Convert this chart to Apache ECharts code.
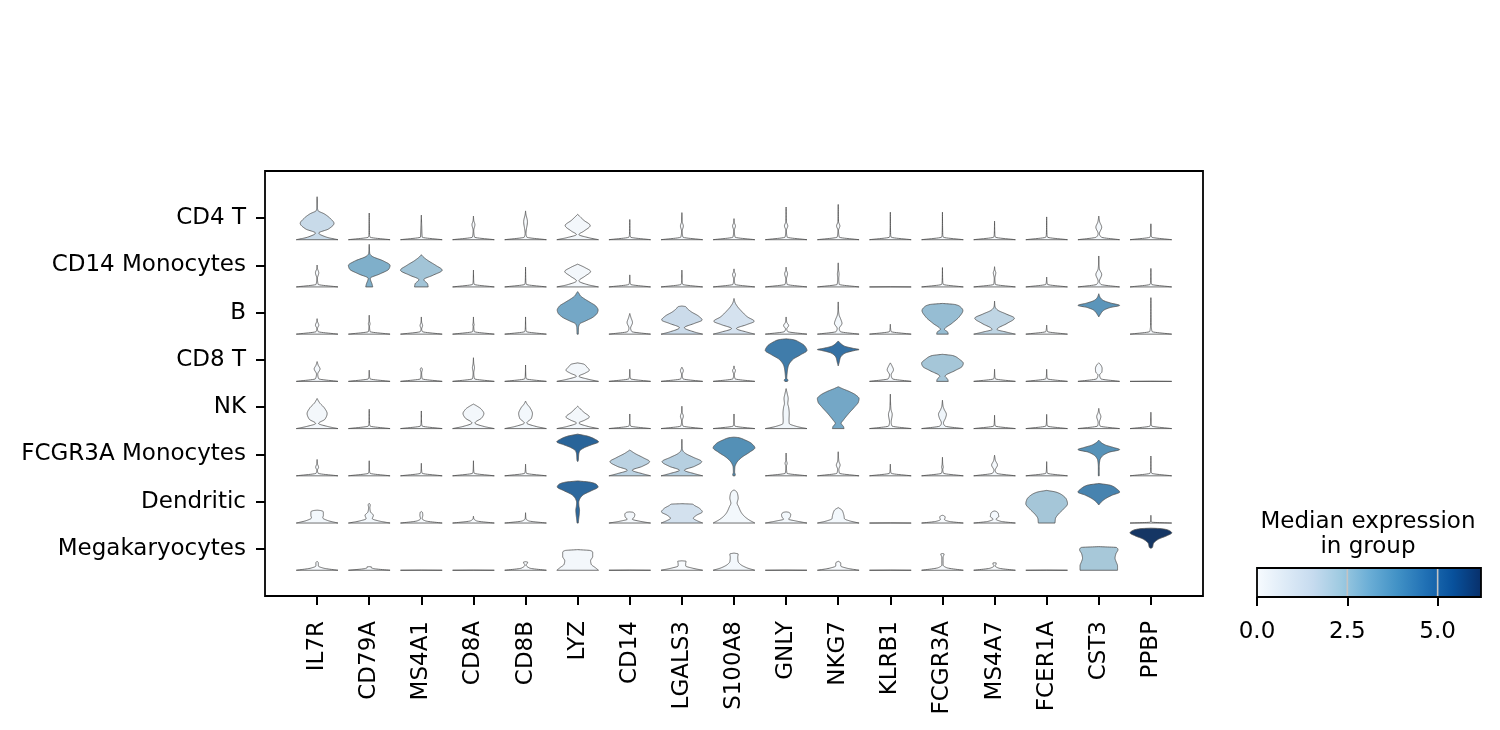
<!DOCTYPE html>
<html>
<head>
<meta charset="utf-8">
<script src="https://cdn.jsdelivr.net/npm/echarts@6/dist/echarts.min.js"></script>
<style>
html,body{margin:0;padding:0;background:#ffffff;}
#chart{width:1500px;height:730px;}
</style>
</head>
<body>
<div id="chart"></div>
<script>
// ---------------- DATA ----------------
const genes = ['IL7R','CD79A','MS4A1','CD8A','CD8B','LYZ','CD14','LGALS3','S100A8','GNLY','NKG7','KLRB1','FCGR3A','MS4A7','FCER1A','CST3','PPBP'];
const groups = ['CD4 T','CD14 Monocytes','B','CD8 T','NK','FCGR3A Monocytes','Dendritic','Megakaryocytes'];

// median expression per group (rows) x gene (columns)
const medianExpr = [
  [1.6, 0,    0,    0,   0,    0.2,  0,   0,    0,    0,    0,    0,   0,   0,   0,    0.1,  0],
  [0,   3.0,  2.4,  0,   0,    0.2,  0,   0,    0,    0,    0,    0,   0,   0,   0,    0.1,  0],
  [0,   0,    0,    0,   0,    3.2,  0.1, 1.55, 1.2,  0,    0.15, 0,   2.6, 1.8, 0,    3.7,  0],
  [0.1, 0,    0,    0,   0,    0.2,  0,   0,    0,    4.35, 4.6,  0.1, 2.35,0,   0,    0.1,  0],
  [0.2, 0,    0,    0.2, 0.15, 0.2,  0,   0,    0,    0.25, 3.2,  0,   0.3, 0,   0,    0,    0],
  [0,   0,    0,    0,   0,    4.95, 1.9, 2.0,  3.85, 0,    0,    0,   0,   0.1, 0,    3.8,  0],
  [0.15,0.15, 0,    0,   0,    4.85, 0.2, 1.25, 0.15, 0.15, 0.15, 0,   0,   0.1, 2.35, 4.15, 0],
  [0,   0,    0,    0,   0,    0.2,  0,   0,    0.15, 0,    0,    0,   0,   0,   0,    2.3,  6.1]
];

// violin density profiles: [level within row range (0..1), density relative to widest (0..1)]
const violinCD4T = [
  [[0,1],[0.06,0.45],[0.155,0.08],[0.25,0.55],[0.38,0.81],[0.5,0.62],[0.6,0.35],[0.68,0.04],[0.75,0.015],[1,0]],
  [[0,1],[0.06,0.04],[0.12,0.015],[0.62,0]],
  [[0,1],[0.06,0.04],[0.3,0.02],[0.57,0]],
  [[0,1],[0.06,0.05],[0.22,0.015],[0.35,0.07],[0.45,0.015],[0.55,0]],
  [[0,1],[0.06,0.06],[0.15,0.02],[0.42,0.09],[0.6,0.015],[0.67,0]],
  [[0,1],[0.05,0.5],[0.12,0.06],[0.2,0.3],[0.33,0.6],[0.45,0.3],[0.59,0]],
  [[0,1],[0.06,0.04],[0.12,0.015],[0.47,0]],
  [[0,1],[0.06,0.05],[0.2,0.015],[0.32,0.07],[0.42,0.015],[0.63,0]],
  [[0,1],[0.06,0.05],[0.22,0.015],[0.32,0.07],[0.4,0.015],[0.49,0]],
  [[0,1],[0.06,0.05],[0.22,0.015],[0.32,0.08],[0.42,0.015],[0.76,0]],
  [[0,1],[0.06,0.05],[0.22,0.015],[0.32,0.08],[0.42,0.015],[0.82,0]],
  [[0,1],[0.06,0.04],[0.12,0.015],[0.64,0]],
  [[0,1],[0.06,0.04],[0.12,0.015],[0.64,0]],
  [[0,1],[0.06,0.04],[0.12,0.015],[0.43,0]],
  [[0,1],[0.06,0.04],[0.12,0.015],[0.53,0]],
  [[0,1],[0.06,0.12],[0.14,0.03],[0.29,0.14],[0.42,0.04],[0.55,0]],
  [[0,1],[0.06,0.04],[0.12,0.015],[0.37,0]]
];
const violinCD14Mono = [
  [[0,1],[0.06,0.05],[0.2,0.015],[0.33,0.08],[0.43,0.015],[0.51,0]],
  [[0,0.17],[0.06,0.14],[0.2,0.05],[0.3,0.5],[0.42,0.95],[0.5,1.0],[0.6,0.7],[0.72,0.12],[0.78,0.025],[0.99,0]],
  [[0,0.33],[0.07,0.3],[0.17,0.12],[0.27,0.55],[0.39,1.0],[0.5,0.7],[0.62,0.3],[0.72,0.05],[0.75,0]],
  [[0,1],[0.06,0.04],[0.12,0.015],[0.39,0]],
  [[0,1],[0.06,0.04],[0.12,0.015],[0.46,0]],
  [[0,1],[0.05,0.5],[0.14,0.06],[0.25,0.35],[0.36,0.62],[0.45,0.35],[0.53,0]],
  [[0,1],[0.06,0.04],[0.12,0.015],[0.28,0]],
  [[0,1],[0.06,0.04],[0.12,0.015],[0.39,0]],
  [[0,1],[0.06,0.05],[0.18,0.015],[0.29,0.07],[0.36,0.015],[0.42,0]],
  [[0,1],[0.06,0.05],[0.18,0.015],[0.31,0.07],[0.39,0.015],[0.46,0]],
  [[0,1],[0.06,0.05],[0.2,0.025],[0.3,0.04],[0.4,0.015],[0.56,0]],
  [[0,1],[0.004,0]],
  [[0,1],[0.06,0.04],[0.12,0.015],[0.45,0]],
  [[0,1],[0.06,0.04],[0.2,0.015],[0.33,0.06],[0.4,0.015],[0.47,0]],
  [[0,1],[0.06,0.04],[0.12,0.015],[0.23,0]],
  [[0,1],[0.06,0.1],[0.13,0.03],[0.29,0.14],[0.42,0.03],[0.5,0.015],[0.72,0]],
  [[0,1],[0.06,0.04],[0.12,0.015],[0.43,0]]
];
const violinB = [
  [[0,1],[0.06,0.05],[0.13,0.015],[0.21,0.08],[0.3,0.015],[0.36,0]],
  [[0,1],[0.06,0.04],[0.18,0.015],[0.24,0.04],[0.3,0.015],[0.44,0]],
  [[0,1],[0.06,0.05],[0.12,0.015],[0.2,0.06],[0.28,0.015],[0.4,0]],
  [[0,1],[0.06,0.04],[0.18,0.015],[0.22,0.035],[0.26,0.015],[0.4,0]],
  [[0,1],[0.06,0.04],[0.12,0.015],[0.4,0]],
  [[0,0.03],[0.15,0.04],[0.24,0.1],[0.3,0.35],[0.4,0.75],[0.5,0.95],[0.56,0.98],[0.65,0.88],[0.74,0.6],[0.83,0.3],[0.9,0.12],[0.95,0.06],[0.99,0]],
  [[0,1],[0.06,0.1],[0.14,0.04],[0.27,0.13],[0.38,0.06],[0.48,0]],
  [[0,1],[0.05,0.6],[0.15,0.12],[0.25,0.6],[0.33,0.97],[0.42,0.8],[0.52,0.45],[0.6,0.25],[0.64,0.18],[0.655,0]],
  [[0,1],[0.05,0.6],[0.13,0.12],[0.22,0.6],[0.3,0.97],[0.4,0.65],[0.54,0.35],[0.66,0.14],[0.75,0.04],[0.83,0]],
  [[0,1],[0.06,0.08],[0.12,0.03],[0.2,0.12],[0.28,0.03],[0.4,0]],
  [[0,1],[0.06,0.1],[0.13,0.05],[0.25,0.18],[0.35,0.12],[0.45,0.04],[0.55,0.015],[0.75,0]],
  [[0,1],[0.06,0.04],[0.12,0.015],[0.23,0]],
  [[0,0.28],[0.05,0.25],[0.11,0.1],[0.25,0.45],[0.4,0.8],[0.55,0.98],[0.64,0.85],[0.69,0.6],[0.715,0]],
  [[0,1],[0.05,0.55],[0.11,0.12],[0.25,0.6],[0.37,0.95],[0.47,0.55],[0.56,0.15],[0.62,0.04],[0.66,0.015],[0.77,0]],
  [[0,1],[0.06,0.04],[0.12,0.015],[0.21,0]],
  [[0.4,0],[0.45,0.06],[0.55,0.22],[0.62,0.55],[0.67,1.0],[0.72,0.6],[0.79,0.2],[0.86,0.06],[0.94,0]],
  [[0,1],[0.06,0.06],[0.12,0.03],[0.2,0.015],[0.85,0]]
];
const violinCD8T = [
  [[0,1],[0.06,0.08],[0.17,0.03],[0.29,0.14],[0.38,0.05],[0.46,0]],
  [[0,1],[0.06,0.04],[0.12,0.015],[0.26,0]],
  [[0,1],[0.06,0.04],[0.2,0.015],[0.28,0.05],[0.32,0]],
  [[0,1],[0.06,0.05],[0.2,0.015],[0.32,0.05],[0.42,0.015],[0.55,0]],
  [[0,1],[0.06,0.04],[0.12,0.015],[0.38,0]],
  [[0,1],[0.05,0.5],[0.12,0.06],[0.19,0.35],[0.26,0.56],[0.33,0.45],[0.4,0.3],[0.43,0]],
  [[0,1],[0.06,0.04],[0.12,0.015],[0.28,0]],
  [[0,1],[0.06,0.05],[0.16,0.015],[0.25,0.07],[0.33,0]],
  [[0,1],[0.06,0.05],[0.16,0.015],[0.26,0.07],[0.3,0.02],[0.36,0]],
  [[0,0.06],[0.03,0.09],[0.07,0.03],[0.2,0.05],[0.35,0.1],[0.5,0.3],[0.62,0.7],[0.72,1.0],[0.82,0.9],[0.92,0.6],[0.97,0.35],[0.99,0]],
  [[0.36,0],[0.45,0.05],[0.55,0.1],[0.65,0.3],[0.72,0.8],[0.74,1.0],[0.77,0.7],[0.82,0.3],[0.88,0.12],[0.94,0]],
  [[0,1],[0.06,0.1],[0.15,0.04],[0.27,0.15],[0.36,0.08],[0.43,0]],
  [[0,0.28],[0.05,0.25],[0.12,0.13],[0.25,0.6],[0.35,0.95],[0.42,1.0],[0.52,0.8],[0.6,0.5],[0.63,0]],
  [[0,1],[0.06,0.04],[0.12,0.015],[0.28,0]],
  [[0,1],[0.06,0.04],[0.12,0.015],[0.28,0]],
  [[0,1],[0.06,0.1],[0.15,0.04],[0.22,0.15],[0.3,0.16],[0.38,0.1],[0.43,0]],
  [[0,1],[0.004,0]]
];
const violinNK = [
  [[0,1],[0.05,0.5],[0.12,0.07],[0.22,0.38],[0.35,0.48],[0.48,0.35],[0.6,0.12],[0.7,0]],
  [[0,1],[0.06,0.04],[0.12,0.015],[0.45,0]],
  [[0,1],[0.06,0.04],[0.12,0.015],[0.41,0]],
  [[0,1],[0.05,0.5],[0.13,0.07],[0.25,0.4],[0.35,0.5],[0.45,0.38],[0.53,0.15],[0.57,0]],
  [[0,1],[0.05,0.5],[0.13,0.06],[0.24,0.28],[0.35,0.33],[0.48,0.22],[0.58,0.06],[0.64,0]],
  [[0,1],[0.05,0.5],[0.13,0.06],[0.2,0.35],[0.27,0.56],[0.38,0.3],[0.52,0]],
  [[0,1],[0.06,0.04],[0.12,0.015],[0.34,0]],
  [[0,1],[0.06,0.05],[0.18,0.015],[0.29,0.07],[0.38,0.015],[0.52,0]],
  [[0,1],[0.06,0.04],[0.12,0.015],[0.34,0]],
  [[0,1],[0.05,0.5],[0.12,0.15],[0.2,0.14],[0.35,0.15],[0.5,0.12],[0.58,0.08],[0.7,0.1],[0.8,0.06],[0.93,0]],
  [[0,0.28],[0.05,0.25],[0.12,0.14],[0.2,0.25],[0.35,0.5],[0.5,0.78],[0.62,0.97],[0.7,1.0],[0.78,0.85],[0.86,0.55],[0.93,0.2],[0.975,0]],
  [[0,1],[0.06,0.08],[0.15,0.04],[0.33,0.09],[0.45,0.03],[0.55,0.015],[0.8,0]],
  [[0,1],[0.06,0.12],[0.13,0.05],[0.25,0.15],[0.33,0.19],[0.45,0.08],[0.52,0.03],[0.66,0]],
  [[0,1],[0.06,0.04],[0.12,0.015],[0.31,0]],
  [[0,1],[0.06,0.04],[0.12,0.015],[0.33,0]],
  [[0,1],[0.06,0.06],[0.14,0.03],[0.28,0.1],[0.38,0.03],[0.47,0]],
  [[0,1],[0.06,0.04],[0.12,0.015],[0.38,0]]
];
const violinFCGR3AMono = [
  [[0,1],[0.06,0.05],[0.13,0.015],[0.2,0.07],[0.28,0.015],[0.38,0]],
  [[0,1],[0.06,0.04],[0.12,0.015],[0.35,0]],
  [[0,1],[0.06,0.04],[0.12,0.015],[0.29,0]],
  [[0,1],[0.06,0.04],[0.12,0.015],[0.35,0]],
  [[0,1],[0.06,0.04],[0.12,0.015],[0.27,0]],
  [[0.33,0],[0.36,0.03],[0.5,0.05],[0.58,0.1],[0.65,0.3],[0.72,0.65],[0.79,1.0],[0.86,0.8],[0.92,0.5],[0.97,0]],
  [[0,1],[0.05,0.6],[0.13,0.12],[0.22,0.6],[0.33,0.95],[0.42,0.65],[0.52,0.25],[0.6,0]],
  [[0,1],[0.05,0.6],[0.13,0.12],[0.22,0.6],[0.33,0.95],[0.43,0.55],[0.52,0.18],[0.58,0.05],[0.64,0.015],[0.85,0]],
  [[0,0.05],[0.03,0.06],[0.08,0.03],[0.2,0.04],[0.3,0.12],[0.42,0.35],[0.55,0.75],[0.65,1.0],[0.75,0.85],[0.84,0.5],[0.89,0.2],[0.9,0]],
  [[0,1],[0.06,0.04],[0.22,0.015],[0.29,0.05],[0.36,0.015],[0.53,0]],
  [[0,1],[0.06,0.06],[0.15,0.03],[0.25,0.09],[0.34,0.03],[0.42,0.015],[0.56,0]],
  [[0,1],[0.06,0.04],[0.12,0.015],[0.27,0]],
  [[0,1],[0.06,0.05],[0.15,0.015],[0.2,0.04],[0.27,0.015],[0.43,0]],
  [[0,1],[0.06,0.1],[0.13,0.03],[0.25,0.14],[0.36,0.04],[0.48,0]],
  [[0,1],[0.06,0.04],[0.12,0.015],[0.33,0]],
  [[0,0.02],[0.2,0.02],[0.36,0.05],[0.45,0.15],[0.55,0.5],[0.61,1.0],[0.66,0.7],[0.72,0.3],[0.78,0.1],[0.83,0]],
  [[0,1],[0.06,0.04],[0.12,0.015],[0.46,0]]
];
const violinDendritic = [
  [[0,1],[0.06,0.5],[0.12,0.27],[0.18,0.3],[0.26,0.3],[0.29,0.18],[0.3,0]],
  [[0,1],[0.05,0.45],[0.1,0.15],[0.18,0.2],[0.26,0.06],[0.36,0.03],[0.42,0.05],[0.46,0]],
  [[0,1],[0.05,0.2],[0.1,0.04],[0.18,0.07],[0.25,0.05],[0.27,0]],
  [[0,1],[0.05,0.15],[0.1,0.02],[0.16,0]],
  [[0,1],[0.05,0.15],[0.1,0.02],[0.24,0]],
  [[0,0.03],[0.1,0.05],[0.22,0.08],[0.3,0.09],[0.4,0.06],[0.48,0.05],[0.56,0.1],[0.65,0.25],[0.75,0.65],[0.84,0.98],[0.9,0.9],[0.95,0.6],[0.98,0]],
  [[0,1],[0.04,0.5],[0.09,0.12],[0.14,0.22],[0.2,0.24],[0.25,0.15],[0.26,0]],
  [[0,1],[0.05,0.75],[0.11,0.55],[0.18,0.7],[0.26,0.98],[0.34,0.85],[0.41,0.6],[0.44,0.5],[0.45,0]],
  [[0,1],[0.08,0.7],[0.18,0.45],[0.26,0.33],[0.38,0.22],[0.46,0.15],[0.58,0.2],[0.68,0.17],[0.75,0.08],[0.77,0]],
  [[0,1],[0.05,0.45],[0.09,0.12],[0.14,0.2],[0.2,0.22],[0.25,0.12],[0.26,0]],
  [[0,1],[0.05,0.55],[0.1,0.3],[0.16,0.28],[0.22,0.25],[0.3,0.18],[0.36,0]],
  [[0,1],[0.004,0]],
  [[0,1],[0.04,0.3],[0.08,0.1],[0.13,0.13],[0.17,0.08],[0.18,0]],
  [[0,1],[0.04,0.3],[0.09,0.07],[0.15,0.2],[0.22,0.18],[0.27,0.08],[0.28,0]],
  [[0,0.4],[0.1,0.42],[0.2,0.55],[0.32,0.8],[0.45,1.0],[0.55,0.95],[0.65,0.75],[0.72,0.45],[0.76,0]],
  [[0.42,0],[0.48,0.1],[0.56,0.3],[0.65,0.65],[0.72,1.0],[0.8,0.85],[0.88,0.55],[0.92,0]],
  [[0,1],[0.02,0.05],[0.04,0.015],[0.18,0]]
];
const violinMegakaryocytes = [
  [[0,1],[0.05,0.3],[0.1,0.06],[0.17,0.06],[0.21,0]],
  [[0,1],[0.04,0.2],[0.06,0.1],[0.08,0.1],[0.085,0]],
  [[0,1],[0.004,0]],
  [[0,1],[0.004,0]],
  [[0,1],[0.05,0.2],[0.12,0.03],[0.16,0.08],[0.19,0.1],[0.2,0]],
  [[0,1],[0.06,0.85],[0.14,0.65],[0.22,0.62],[0.32,0.72],[0.42,0.72],[0.46,0.6],[0.48,0]],
  [[0,1],[0.004,0]],
  [[0,1],[0.05,0.5],[0.1,0.18],[0.15,0.18],[0.21,0.2],[0.22,0]],
  [[0,1],[0.06,0.6],[0.14,0.3],[0.2,0.2],[0.3,0.18],[0.38,0.2],[0.4,0]],
  [[0,1],[0.004,0]],
  [[0,1],[0.05,0.4],[0.1,0.12],[0.17,0.12],[0.21,0]],
  [[0,1],[0.004,0]],
  [[0,1],[0.06,0.2],[0.12,0.03],[0.3,0.03],[0.38,0.08],[0.39,0]],
  [[0,1],[0.05,0.2],[0.1,0.03],[0.14,0.07],[0.17,0.08],[0.175,0]],
  [[0,1],[0.004,0]],
  [[0,0.9],[0.1,0.9],[0.2,0.83],[0.28,0.78],[0.38,0.82],[0.48,0.92],[0.53,0.85],[0.55,0]],
  [[0.51,0],[0.53,0.07],[0.62,0.12],[0.72,0.35],[0.8,0.75],[0.87,1.0],[0.93,0.85],[0.97,0.45],[0.98,0]]
];
const violinProfiles = [violinCD4T, violinCD14Mono, violinB, violinCD8T, violinNK, violinFCGR3AMono, violinDendritic, violinMegakaryocytes];

const colorbarTicks = [0, 2.5, 5.0];
const colorMin = 0;
const colorMax = 6.2;
const colorbarTitle = 'Median expression\nin group';
const bluesColors = ['#f7fbff','#deebf7','#c6dbef','#9ecae1','#6baed6','#4292c6','#2171b5','#08519c','#08306b'];

// ---------------- HELPERS ----------------
function sampleProfile(knots, steps) {
  const n = knots.length;
  const xs = knots.map(k => k[0]), ys = knots.map(k => k[1]);
  if (n === 2) return [[xs[0], ys[0]], [xs[1], ys[1]]];
  const d = [], m = new Array(n);
  for (let i = 0; i < n - 1; i++) d.push((ys[i + 1] - ys[i]) / (xs[i + 1] - xs[i]));
  m[0] = d[0]; m[n - 1] = d[n - 2];
  for (let i = 1; i < n - 1; i++) {
    if (d[i - 1] * d[i] <= 0) m[i] = 0;
    else {
      const h0 = xs[i] - xs[i - 1], h1 = xs[i + 1] - xs[i];
      const w1 = 2 * h1 + h0, w2 = h1 + 2 * h0;
      m[i] = (w1 + w2) / (w1 / d[i - 1] + w2 / d[i]);
    }
  }
  const out = [];
  for (let i = 0; i < n - 1; i++) {
    const h = xs[i + 1] - xs[i];
    for (let s = 0; s < steps; s++) {
      const t = s / steps, t2 = t * t, t3 = t2 * t;
      const y = (2 * t3 - 3 * t2 + 1) * ys[i] + (t3 - 2 * t2 + t) * h * m[i] +
                (-2 * t3 + 3 * t2) * ys[i + 1] + (t3 - t2) * h * m[i + 1];
      out.push([xs[i] + t * h, Math.max(0, y)]);
    }
  }
  out.push([xs[n - 1], ys[n - 1]]);
  return out;
}

function parseColor(col) {
  if (typeof col !== 'string') return [247, 251, 255];
  col = col.trim();
  if (col[0] === '#') {
    let h = col.slice(1);
    if (h.length === 3) h = h.split('').map(ch => ch + ch).join('');
    return [parseInt(h.slice(0, 2), 16), parseInt(h.slice(2, 4), 16), parseInt(h.slice(4, 6), 16)];
  }
  const m = col.match(/[\d.]+/g);
  return m ? [+m[0], +m[1], +m[2]] : [247, 251, 255];
}

// seaborn-style desaturation of fill colours (saturation x prop in HLS space)
function desaturate(col, prop) {
  const c = parseColor(col);
  const r = c[0] / 255, g = c[1] / 255, b = c[2] / 255;
  const max = Math.max(r, g, b), min = Math.min(r, g, b);
  const l = (max + min) / 2;
  if (max === min) return 'rgb(' + c[0] + ',' + c[1] + ',' + c[2] + ')';
  const d = max - min;
  const s = l > 0.5 ? d / (2 - max - min) : d / (max + min);
  let h;
  if (max === r) h = (g - b) / d + (g < b ? 6 : 0);
  else if (max === g) h = (b - r) / d + 2;
  else h = (r - g) / d + 4;
  h /= 6;
  const s2 = s * prop;
  const q = l < 0.5 ? l * (1 + s2) : l + s2 - l * s2;
  const p = 2 * l - q;
  const hue2rgb = (t) => {
    if (t < 0) t += 1; if (t > 1) t -= 1;
    if (t < 1 / 6) return p + (q - p) * 6 * t;
    if (t < 1 / 2) return q;
    if (t < 2 / 3) return p + (q - p) * (2 / 3 - t) * 6;
    return p;
  };
  return 'rgb(' + Math.round(hue2rgb(h + 1 / 3) * 255) + ',' + Math.round(hue2rgb(h) * 255) + ',' + Math.round(hue2rgb(h - 1 / 3) * 255) + ')';
}

const FONT = 'DejaVu Sans';
const FS = 23;

const cells = [];
groups.forEach((g, r) => {
  genes.forEach((gene, c) => {
    cells.push([c + 1, r + 1, medianExpr[r][c], r, c]);
  });
});

const chart = echarts.init(document.getElementById('chart'), null, {renderer: 'canvas'});

const option = {
  backgroundColor: '#ffffff',
  animation: false,
  grid: [
    {left: 265, top: 171, width: 938, height: 425, show: true, borderColor: '#000', borderWidth: 1.8, backgroundColor: 'transparent'},
    {left: 1257, top: 568, width: 224, height: 29, show: false}
  ],
  xAxis: [
    {
      type: 'category', gridIndex: 0, data: [''].concat(genes, ['']), boundaryGap: false,
      axisLine: {show: false},
      axisTick: {show: true, length: 9, interval: (i) => i > 0 && i <= genes.length, lineStyle: {color: '#000', width: 2}},
      axisLabel: {interval: 0, rotate: 90, margin: 25, fontFamily: FONT, fontSize: FS, color: '#000'},
      splitLine: {show: false}
    },
    {
      type: 'value', gridIndex: 1, min: colorMin, max: colorMax,
      axisLine: {show: false},
      axisTick: {show: true, length: 9, customValues: colorbarTicks, lineStyle: {color: '#000', width: 2}},
      axisLabel: {customValues: colorbarTicks, formatter: (v) => Number(v).toFixed(1), margin: 24, fontFamily: FONT, fontSize: FS, color: '#000'},
      splitLine: {show: false}
    }
  ],
  yAxis: [
    {
      type: 'category', gridIndex: 0, data: [''].concat(groups, ['']), boundaryGap: false, inverse: true,
      axisLine: {show: false},
      axisTick: {show: true, length: 9, interval: (i) => i > 0 && i <= groups.length, lineStyle: {color: '#000', width: 2}},
      axisLabel: {interval: 0, margin: 19, padding: [4, 0, 0, 0], fontFamily: FONT, fontSize: FS, color: '#000'},
      splitLine: {show: false}
    },
    {type: 'value', gridIndex: 1, min: 0, max: 1, show: false}
  ],
  visualMap: {
    show: false, type: 'continuous', min: colorMin, max: colorMax, dimension: 2, seriesIndex: 0,
    inRange: {color: bluesColors}
  },
  graphic: [
    {
      type: 'text', x: 1368, y: 510,
      style: {text: colorbarTitle, textAlign: 'center', textVerticalAlign: 'top', font: FS + 'px "' + FONT + '"', lineHeight: 25, fill: '#000'}
    }
  ],
  series: [
    {
      type: 'custom', xAxisIndex: 0, yAxisIndex: 0, data: cells,
      encode: {x: 0, y: 1},
      renderItem: function (params, api) {
        const gx = api.value(0), gy = api.value(1);
        const r = api.value(3), c = api.value(4);
        const p0 = api.coord([gx, gy]);
        const p1 = api.coord([gx + 1, gy + 1]);
        const ux = Math.abs(p1[0] - p0[0]);
        const uy = Math.abs(p1[1] - p0[1]);
        const half = 0.4 * ux;
        const range = 0.91 * uy;
        const base = p0[1] + range / 2;
        const prof = sampleProfile(violinProfiles[r][c], 10);
        const right = prof.map(([f, w]) => [p0[0] + w * half, base - f * range]);
        const left = prof.slice().reverse().map(([f, w]) => [p0[0] - w * half, base - f * range]);
        return {
          type: 'polygon',
          shape: {points: right.concat(left)},
          style: {fill: desaturate(api.visual('color'), 0.75), stroke: '#4f4f4f', lineWidth: 0.8, lineJoin: 'round'}
        };
      }
    },
    {
      type: 'custom', xAxisIndex: 1, yAxisIndex: 1, data: [[colorMin, colorMax]],
      silent: true,
      renderItem: function (params, api) {
        const a = api.coord([api.value(0), 0]);
        const b = api.coord([api.value(1), 1]);
        const x0 = a[0], x1 = b[0], yTop = b[1], yBot = a[1];
        const stops = bluesColors.map((col, i) => ({offset: i / (bluesColors.length - 1), color: col}));
        const children = [{
          type: 'rect',
          shape: {x: x0, y: yTop, width: x1 - x0, height: yBot - yTop},
          style: {fill: new echarts.graphic.LinearGradient(0, 0, 1, 0, stops)}
        }];
        colorbarTicks.forEach(v => {
          if (v > colorMin && v < colorMax) {
            const px = api.coord([v, 0])[0];
            children.push({type: 'line', shape: {x1: px, y1: yTop, x2: px, y2: yBot}, style: {stroke: '#c4c4c4', lineWidth: 1.6}});
          }
        });
        children.push({
          type: 'rect',
          shape: {x: x0, y: yTop, width: x1 - x0, height: yBot - yTop},
          style: {fill: 'none', stroke: '#000', lineWidth: 1.8}
        });
        return {type: 'group', children: children};
      }
    }
  ]
};
chart.setOption(option);
</script>
</body>
</html>
